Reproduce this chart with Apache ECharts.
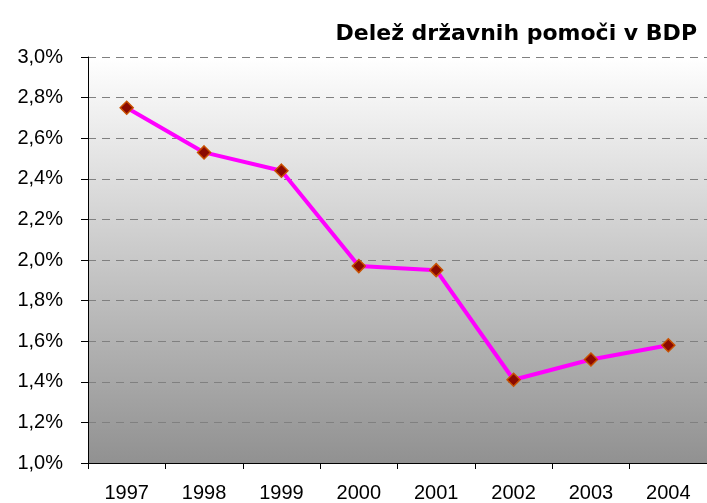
<!DOCTYPE html>
<html>
<head>
<meta charset="utf-8">
<script src="https://cdn.jsdelivr.net/npm/echarts@6/dist/echarts.min.js"></script>
<style>
  html, body { margin: 0; padding: 0; background: #fff; }
  #chart { width: 707px; height: 503px; }
</style>
</head>
<body>
<div id="chart"></div>
<script>
// podatki
const years = ['1997', '1998', '1999', '2000', '2001', '2002', '2003', '2004']
const share = [2.75, 2.53, 2.44, 1.97, 1.95, 1.41, 1.51, 1.58]

const chart = echarts.init(document.getElementById('chart'))

const option = {
  animation: false,
  title: {
    text: 'Delež državnih pomoči v BDP',
    right: 5,
    top: 18,
    textStyle: {
      fontFamily: 'DejaVu Sans',
      fontWeight: 'bold',
      fontSize: 22,
      color: '#000',
    },
  },
  grid: {
    left: 88,
    right: 0,
    top: 57,
    bottom: 38,
    show: true,
    borderWidth: 0,
    // siv preliv v ozadju risalne površine
    backgroundColor: new echarts.graphic.LinearGradient(0, 0, 0, 1, [
      { offset: 0, color: '#ffffff' },
      { offset: 1, color: '#919191' },
    ]),
  },
  xAxis: {
    type: 'category',
    data: years,
    boundaryGap: true,
    axisLine: { lineStyle: { color: '#000', width: 1 } },
    axisTick: { show: true, length: 6, lineStyle: { color: '#000' } },
    axisLabel: {
      margin: 20,
      color: '#000',
      fontFamily: 'Liberation Sans, Arial',
      fontSize: 20,
    },
  },
  yAxis: {
    type: 'value',
    min: 1.0,
    max: 3.0,
    interval: 0.2,
    axisLine: { show: true, lineStyle: { color: '#000', width: 1 } },
    axisTick: { show: true, length: 7, lineStyle: { color: '#000' } },
    axisLabel: {
      margin: 25,
      color: '#000',
      fontFamily: 'Liberation Sans, Arial',
      fontSize: 20,
      formatter: (v) => v.toFixed(1).replace('.', ',') + '%',
    },
    splitLine: {
      show: true,
      lineStyle: { color: '#808080', type: [8, 6], width: 1 },
    },
  },
  series: [
    {
      type: 'line',
      data: share,
      lineStyle: { color: '#ff00ff', width: 4 },
      symbol: 'diamond',
      symbolSize: 13,
      itemStyle: {
        color: '#8b0a00',
        borderColor: '#c85000',
        borderWidth: 1.5,
      },
    },
  ],
}
chart.setOption(option)
</script>
</body>
</html>
